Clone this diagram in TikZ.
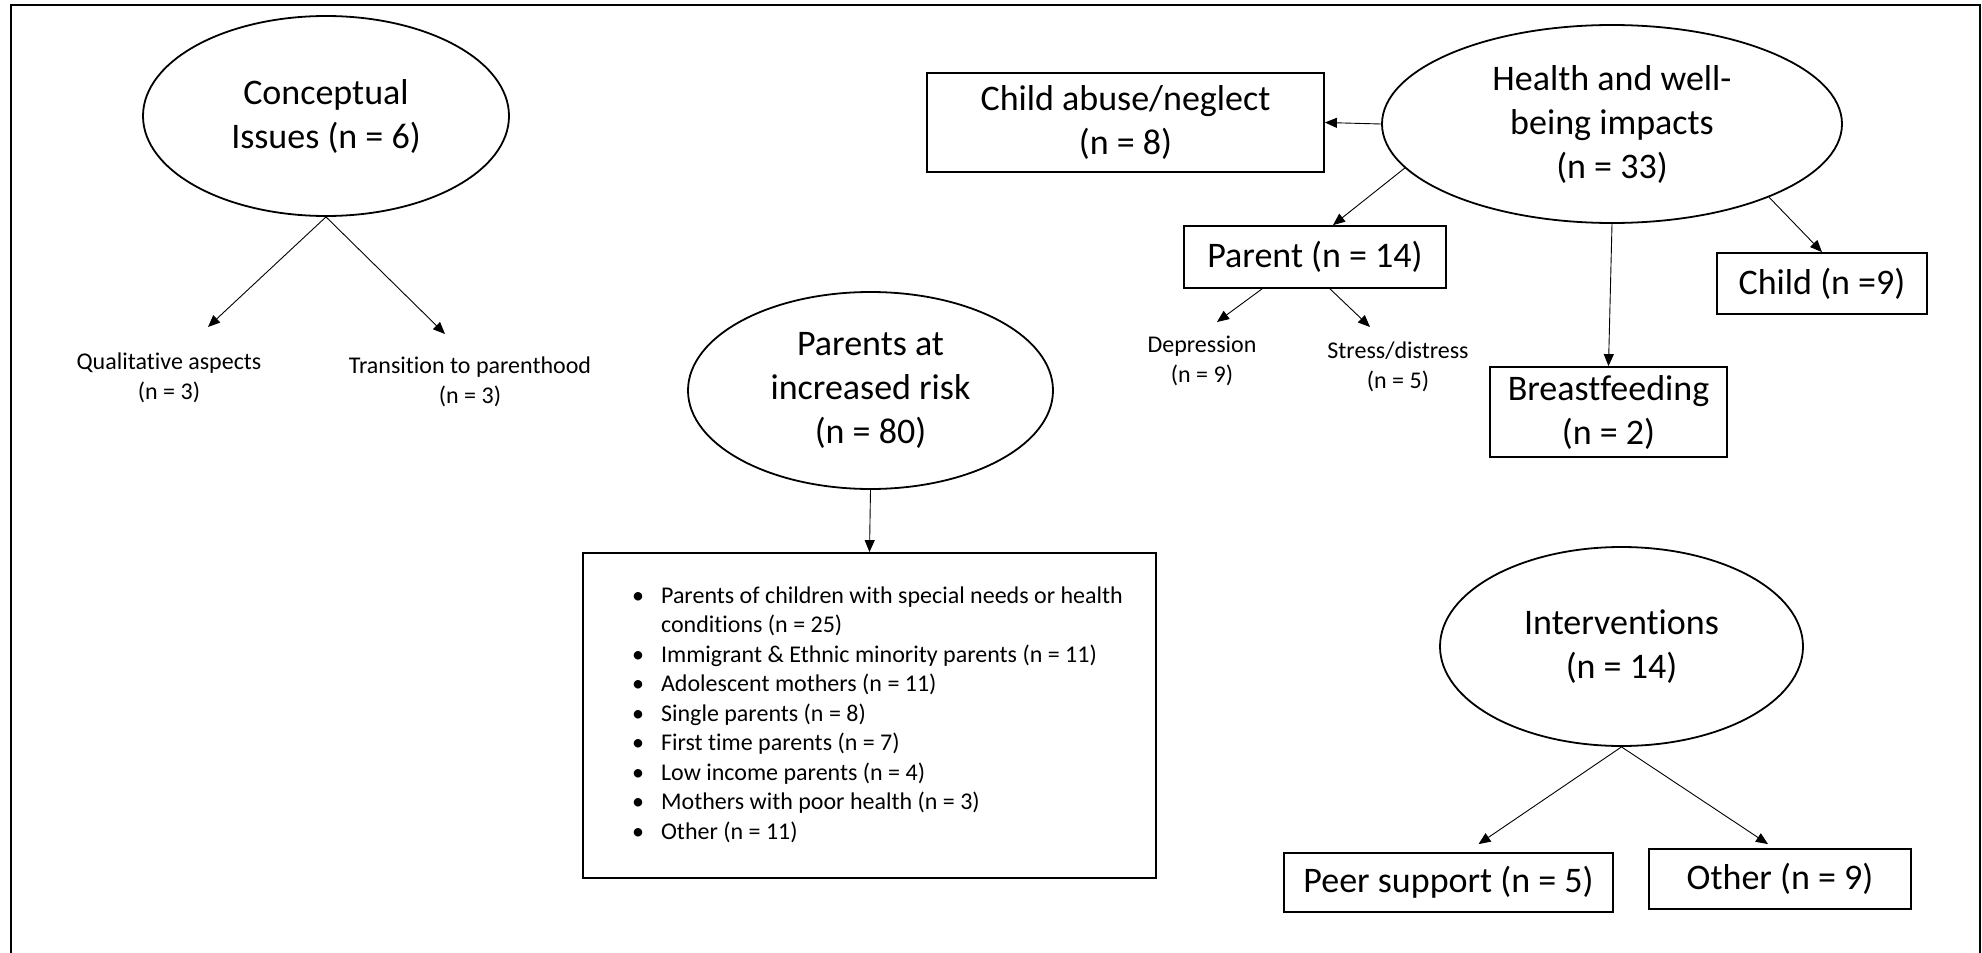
\documentclass[tikz,border=0pt]{standalone}
\usepackage{fontspec}
\setmainfont{Carlito}[Ligatures=NoCommon]
\usetikzlibrary{math}
\usetikzlibrary{arrows.meta,shapes.geometric,positioning}
\newcommand{\bigtxt}{\fontsize{36}{44}\selectfont}
\newcommand{\smalltxt}{\fontsize{24}{29.5}\selectfont}

\begin{document}
\begin{tikzpicture}[x=1pt,y=-1pt]

\tikzmath{
	\Lw = 1.8;
	\lw = 0.9;
}

\tikzset{
  topic/.style={draw, ellipse, line width=\Lw pt, font=\bigtxt, align=center, inner sep=0pt},
  group box/.style={draw, rectangle, line width=\Lw pt, font=\bigtxt, align=center, inner sep=0pt},
  leaf/.style={font=\smalltxt, align=center},
  branch/.style={line width=\lw pt, -{Triangle[length=12pt,width=10pt]}}
}

\useasboundingbox (0,0) rectangle (1982,953);
\draw[line width=\Lw pt] (11,953) -- (11,5) -- (1980,5) -- (1980,953);

\node[topic, minimum width=366pt, minimum height=200pt] (concept) at (326,116) {Conceptual\\Issues (n = 6)};
\node[leaf] (qual) at (169,378) {Qualitative aspects\\(n = 3)};
\node[leaf] (trans) at (470,382) {Transition to parenthood\\(n = 3)};

\node[topic, minimum width=460pt, minimum height=198pt] (health) at (1612,124) {Health and well-\\being impacts\\(n = 33)};
\node[group box, minimum width=397pt, minimum height=99pt] (abuse) at (1125.5,122.5) {Child abuse/neglect\\(n = 8)};
\node[group box, minimum width=262pt, minimum height=62pt] (parent) at (1315,257) {Parent (n = 14)};
\node[leaf] (dep) at (1202,361) {Depression\\(n = 9)};
\node[leaf] (stress) at (1398,367) {Stress/distress\\(n = 5)};
\node[group box, minimum width=210pt, minimum height=61pt] (child) at (1822,283.5) {Child (n =9)};
\node[group box, minimum width=237pt, minimum height=90pt] (breast) at (1608.5,412) {Breastfeeding\\(n = 2)};

\node[topic, minimum width=365pt, minimum height=197pt] (risk) at (870.5,390.5) {Parents at\\increased risk\\(n = 80)};
\node[group box, minimum width=573pt, minimum height=325pt, font=\smalltxt] (risklist) at (869.5,715.5)
{\hspace*{16pt}\begin{tabular}{@{}l@{\hspace{17pt}}l@{}}
\textbullet & Parents of children with special needs or health\\
 & conditions (n = 25)\\
\textbullet & Immigrant \& Ethnic minority parents (n = 11)\\
\textbullet & Adolescent mothers (n = 11)\\
\textbullet & Single parents (n = 8)\\
\textbullet & First time parents (n = 7)\\
\textbullet & Low income parents (n = 4)\\
\textbullet & Mothers with poor health (n = 3)\\
\textbullet & Other (n = 11)
\end{tabular}};

\node[topic, minimum width=363pt, minimum height=199pt] (intv) at (1621.5,646.5) {Interventions\\(n = 14)};
\node[group box, minimum width=329pt, minimum height=59pt] (peer) at (1448.5,882.5) {Peer support (n = 5)};
\node[group box, minimum width=262pt, minimum height=60pt] (other) at (1780,879) {Other (n = 9)};

\coordinate (qualtip) at (208,327);
\coordinate (transtip) at (445,334);
\coordinate (deptip) at (1217,322);
\coordinate (stresstip) at (1370,327);

\draw[branch] (concept.south) -- (qualtip);
\draw[branch] (concept.south) -- (transtip);
\draw[branch] (health.west) -- (abuse.east);
\draw[branch] (health.192) -- ([xshift=18pt]parent.north);
\draw[branch] (health.south) -- (breast.north);
\draw[branch] (health.-25) -- (child.north);
\draw[branch] ([xshift=-53pt]parent.south) -- (deptip);
\draw[branch] ([xshift=15pt]parent.south) -- (stresstip);
\draw[branch] (risk.south) -- (risklist.north);
\draw[branch] (intv.south) -- ([xshift=30pt,yshift=8pt]peer.north);
\draw[branch] (intv.south) -- ([xshift=-12pt,yshift=4pt]other.north);

\end{tikzpicture}
\end{document}
